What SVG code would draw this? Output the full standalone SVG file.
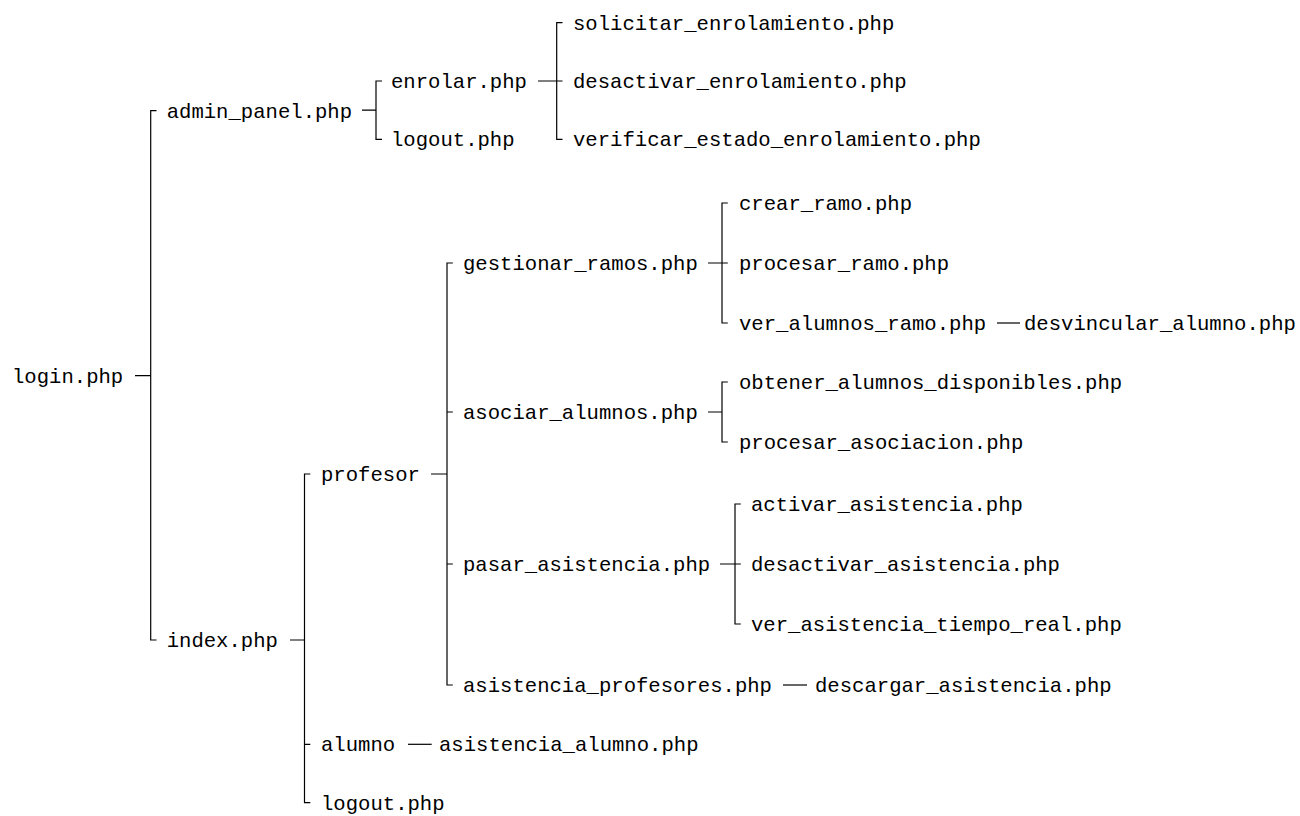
<svg xmlns="http://www.w3.org/2000/svg" width="1300" height="816" viewBox="0 0 1300 816">
  <style>
    .lbl { font-family: "Liberation Mono", "DejaVu Sans Mono", monospace; font-size: 20.6px; fill: #000; }
    .edge { fill: none; stroke: #000; stroke-width: 1.2; }
  </style>
  <rect width="1300" height="816" fill="#fff"/>

  <!-- connectors: bracket-style tree edges -->
  <g id="connectors" class="edge">
    <!-- login.php -> admin_panel.php, index.php -->
    <path d="M135,375.7 H150.7 M156.5,110.7 H150.7 V640 H156.5"/>
    <!-- admin_panel.php -> enrolar.php, logout.php -->
    <path d="M362,110.2 H376 M382,81 H376 V139.3 H382"/>
    <!-- enrolar.php -> solicitar / desactivar / verificar -->
    <path d="M538,81 H562.5 M562.5,22.7 H556.7 V139.3 H562.5"/>
    <!-- index.php -> profesor, alumno, logout.php -->
    <path d="M290,640 H304.5 M310.3,474 H304.5 V802.7 H310.3 M304.5,744.3 H310.3"/>
    <!-- profesor -> four pages -->
    <path d="M431,474 H447 M452.8,263 H447 V685 H452.8 M447,412 H452.8 M447,564 H452.8"/>
    <!-- gestionar_ramos.php -> three pages -->
    <path d="M708,263 H727.8 M727.8,203 H722 V323 H727.8"/>
    <!-- asociar_alumnos.php -> two pages -->
    <path d="M708,412 H722 M727.8,382 H722 V442 H727.8"/>
    <!-- pasar_asistencia.php -> three pages -->
    <path d="M720,564 H740.8 M740.8,504 H735 V624 H740.8"/>
    <!-- single-child links -->
    <path d="M997,323 H1020"/>
    <path d="M783,685 H807"/>
    <path d="M408,744.3 H431.7"/>
  </g>

  <g id="n-login"><text class="lbl" x="12" y="382.7">login.php</text></g>
  <g id="n-admin-panel"><text class="lbl" x="166.7" y="117.7">admin_panel.php</text></g>
  <g id="n-index"><text class="lbl" x="166.7" y="647">index.php</text></g>

  <g id="n-enrolar"><text class="lbl" x="391" y="88">enrolar.php</text></g>
  <g id="n-logout-admin"><text class="lbl" x="391" y="146.3">logout.php</text></g>
  <g id="n-solicitar"><text class="lbl" x="573" y="29.7">solicitar_enrolamiento.php</text></g>
  <g id="n-desactivar-enrol"><text class="lbl" x="573" y="88">desactivar_enrolamiento.php</text></g>
  <g id="n-verificar"><text class="lbl" x="573" y="146.3">verificar_estado_enrolamiento.php</text></g>

  <g id="n-profesor"><text class="lbl" x="321" y="481">profesor</text></g>
  <g id="n-alumno"><text class="lbl" x="321" y="751.3">alumno</text></g>
  <g id="n-logout-index"><text class="lbl" x="321" y="809.7">logout.php</text></g>
  <g id="n-asistencia-alumno"><text class="lbl" x="439" y="751.3">asistencia_alumno.php</text></g>

  <g id="n-gestionar"><text class="lbl" x="463" y="270">gestionar_ramos.php</text></g>
  <g id="n-asociar"><text class="lbl" x="463" y="419">asociar_alumnos.php</text></g>
  <g id="n-pasar"><text class="lbl" x="463" y="571">pasar_asistencia.php</text></g>
  <g id="n-asistencia-prof"><text class="lbl" x="463" y="692">asistencia_profesores.php</text></g>
  <g id="n-descargar"><text class="lbl" x="815" y="692">descargar_asistencia.php</text></g>

  <g id="n-crear"><text class="lbl" x="739" y="210">crear_ramo.php</text></g>
  <g id="n-procesar-ramo"><text class="lbl" x="739" y="270">procesar_ramo.php</text></g>
  <g id="n-ver-alumnos"><text class="lbl" x="739" y="330">ver_alumnos_ramo.php</text></g>
  <g id="n-desvincular"><text class="lbl" x="1024" y="330">desvincular_alumno.php</text></g>

  <g id="n-obtener"><text class="lbl" x="739" y="389">obtener_alumnos_disponibles.php</text></g>
  <g id="n-procesar-asoc"><text class="lbl" x="739" y="449">procesar_asociacion.php</text></g>

  <g id="n-activar"><text class="lbl" x="751" y="511">activar_asistencia.php</text></g>
  <g id="n-desactivar-asis"><text class="lbl" x="751" y="571">desactivar_asistencia.php</text></g>
  <g id="n-ver-asistencia"><text class="lbl" x="751" y="631">ver_asistencia_tiempo_real.php</text></g>
</svg>
